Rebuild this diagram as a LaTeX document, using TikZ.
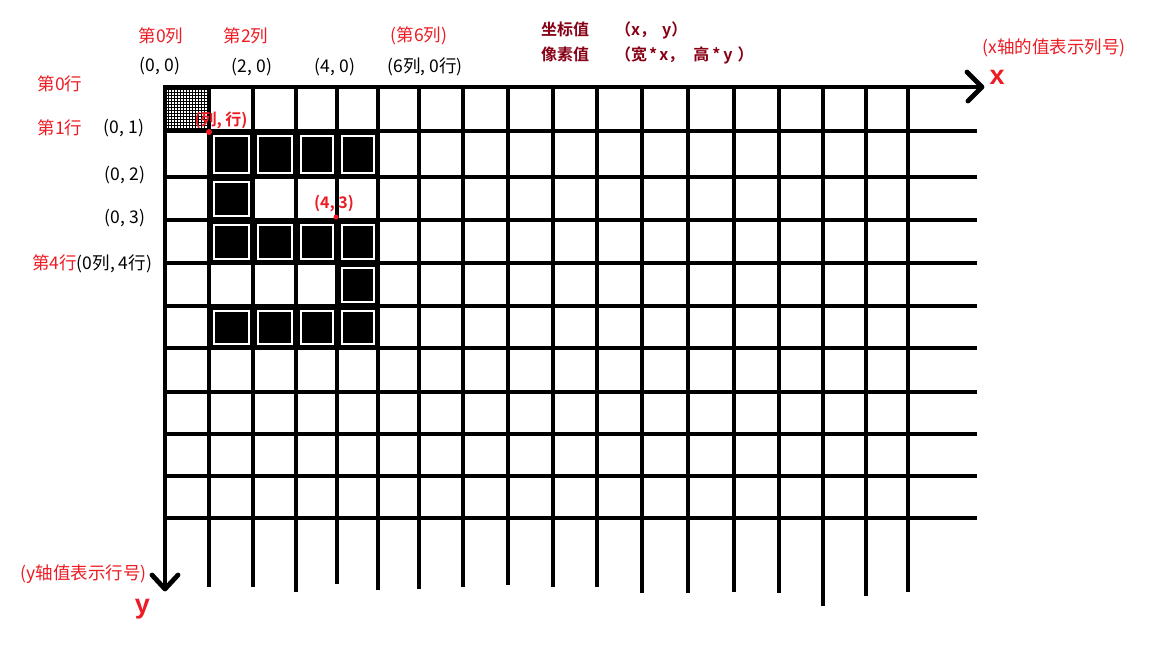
\documentclass[tikz,border=0pt]{standalone}
\usepackage{fontspec}
\newfontfamily\cjk{Noto Sans CJK SC}[BoldFont=* Bold]
\newfontfamily\lsans{Liberation Sans}
\definecolor{lred}{RGB}{237,28,36}
\definecolor{dred}{RGB}{136,0,21}
\begin{document}
\begin{tikzpicture}[x=1pt,y=-1pt,
  gridline/.style={line width=4.8pt},
  arrowline/.style={line width=4.8pt, line cap=round, line join=round},
  lbl/.style={font=\cjk\fontsize{17.5}{20}\selectfont, inner sep=0pt},
  rlbl/.style={lbl, text=lred},
  klbl/.style={lbl, text=black},
  boldlbl/.style={font=\cjk\bfseries\fontsize{16}{19}\selectfont, inner sep=0pt, text=lred},
  titlelbl/.style={font=\cjk\bfseries\fontsize{16}{19}\selectfont, inner sep=0pt, text=dred, anchor=west},
  axislbl/.style={font=\lsans\bfseries\fontsize{27}{30}\selectfont, inner sep=0pt, text=lred},
  reddot/.style={circle, fill=lred, inner sep=0pt, minimum size=6pt},
  ring/.style={draw=white, line width=2pt}]
\useasboundingbox (0,0) rectangle (1152,648);
\fill[white] (0,0) rectangle (1152,648);

% black cells: (left,right,top,bottom)
\foreach \l/\r/\t/\b in {
  209/253/131/177, 253/296/131/177, 296/337/131/177, 337/378/131/177,
  209/253/177/220,
  209/253/220/263, 253/296/220/263, 296/337/220/263, 337/378/220/263,
  337/378/263/306,
  209/253/306/348, 253/296/306/348, 296/337/306/348, 337/378/306/348}{
  \fill[black] (\l,\t) rectangle (\r,\b);
  \draw[ring] (\l+5,\t+4.5) rectangle (\r-4.5,\b-4.5);
}

% mesh cell
\foreach \i in {0,...,13}{
  \draw[line width=1pt] (168+3*\i,88) -- (168+3*\i,130);
  \draw[line width=1pt] (166,89+3*\i) -- (208,89+3*\i);
}

% horizontal grid lines
\foreach \y in {131,177,220,263,306,348,392,434,476,518}{
  \draw[gridline] (165,\y) -- (977,\y);
}
% vertical grid lines
\foreach \x/\b in {209/587,253/587,296/592,337/584,378/590,419/589,463/587,508/585,553/587,597/587,642/593,688/593,734/592,779/593,823/606,866/596,908/592}{
  \draw[gridline] (\x,87) -- (\x,\b);
}

% axes
\coordinate (O) at (165,87);
\coordinate (xend) at (982,87);
\coordinate (yend) at (165,589);
\draw[gridline] (163,87) -- (xend);
\draw[gridline] (165,85) -- (yend);
\draw[arrowline] (967,72) -- (xend) -- (968,101);
\draw[arrowline] (152,575) -- (yend) -- (178,575);

\node[axislbl] (xl) at (997,77) {x};
\node[axislbl] (yl) at (142.5,609) {y};

% red dots
\node[reddot] (d1) at (209,132) {};
\node[reddot, minimum size=5pt] (d2) at (336,217) {};
\node[boldlbl] (l1) at (221,120) {(列, 行)};
\node[boldlbl] (l2) at (334,204) {(4, 3)};

% column labels
\node[rlbl] (c0) at (161,36) {第0列};
\node[rlbl] (c2) at (246,36) {第2列};
\node[rlbl] (c6) at (419,36) {(第6列)};
\node[klbl] (p00) at (160,66) {(0, 0)};
\node[klbl] (p20) at (252,67) {(2, 0)};
\node[klbl] (p40) at (335,67) {(4, 0)};
\node[klbl] (p60) at (425,67) {(6列, 0行)};

% row labels
\node[rlbl] (r0) at (60,84) {第0行};
\node[rlbl] (r1) at (60,128) {第1行};
\node[klbl] (p01) at (124,128) {(0, 1)};
\node[klbl] (p02) at (125,175) {(0, 2)};
\node[klbl] (p03) at (125,218) {(0, 3)};
\node[lbl, anchor=west] (r4) at (32,264) {\textcolor{lred}{第4行}(0列, 4行)};

% axis notes
\node[rlbl, anchor=east] (xn) at (1126,48) {(x轴的值表示列号)};
\node[rlbl, anchor=east] (yn) at (147,574) {(y轴值表示行号)};

% title
\node[titlelbl] (t1) at (541,30) {坐标值\hspace{26pt}（x，\hspace{6pt}y）};
\node[titlelbl] (t2) at (541,55) {像素值\hspace{26pt}（宽\hspace{2pt}*\hspace{2pt}x，\hspace{9pt}高\hspace{3pt}*\hspace{3pt}y\hspace{5pt}）};
\end{tikzpicture}
\end{document}
